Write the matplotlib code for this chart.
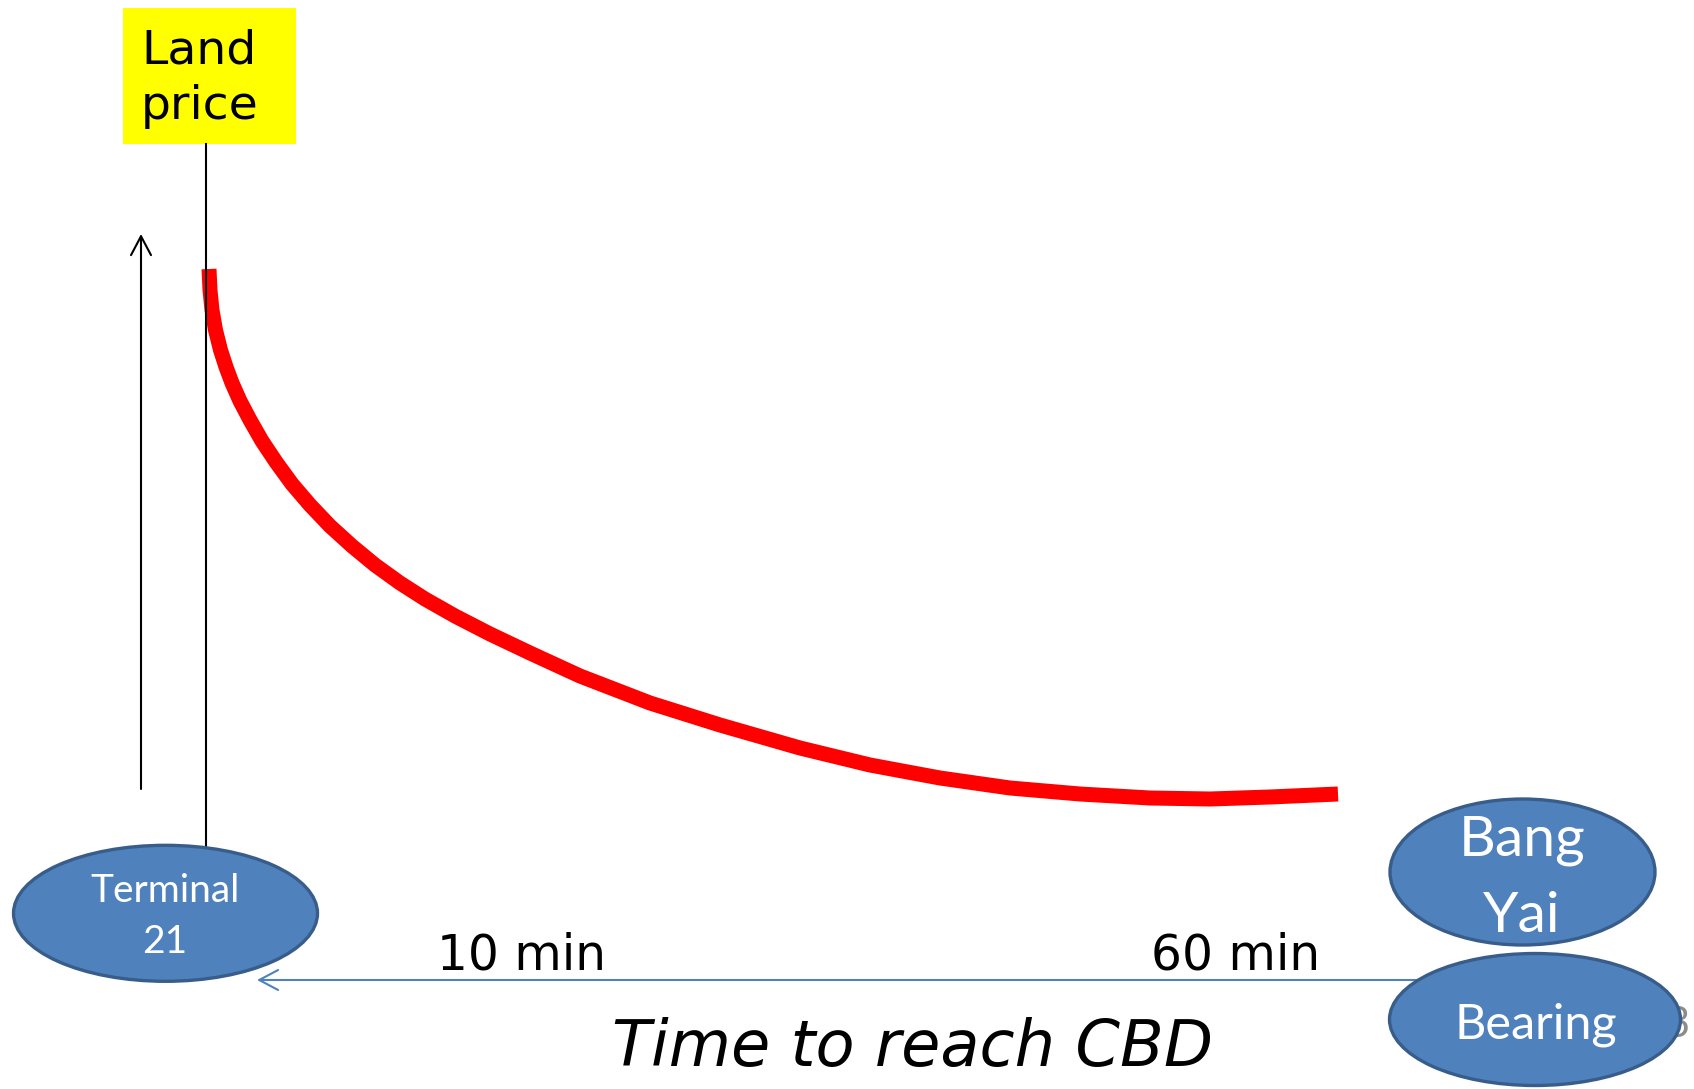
import matplotlib
matplotlib.use("Agg")
import matplotlib.pyplot as plt
from matplotlib.patches import Ellipse, Rectangle

# ---- data (canvas pixel units) ----
curve_x = [209, 210, 212, 215.5, 220.5, 226, 232, 240, 250, 262, 276, 292, 310, 330,
           352, 375, 400, 425, 455, 490, 530, 580, 650, 720, 800, 870, 940, 1010,
           1080, 1150, 1210, 1270, 1338]
curve_y = [269, 290, 310, 330, 350, 367, 383, 401, 420, 441, 462, 484, 505, 526,
           546, 565, 583, 599, 616, 634, 653, 676, 703, 725, 748, 765, 778, 788,
           794, 798, 799, 797, 794]

y_label_lines = ["Land", "price"]
time_labels = ["10 min", "60 min"]
axis_title = "Time to reach CBD"
station_near = ["Terminal", "21"]
station_far_top = ["Bang", "Yai"]
station_far_bottom = ["Bearing"]
slide_number = "3"

# ---- styles ----
RED = "#ff0000"
BLUE = "#4f81bd"
BLUE_EDGE = "#385d8a"
YELLOW = "#ffff00"

W, H = 1694, 1089
fig = plt.figure(figsize=(W / 100, H / 100), dpi=100)
ax = fig.add_axes([0, 0, 1, 1])
ax.set_xlim(0, W)
ax.set_ylim(H, 0)
ax.axis("off")

# yellow label box
ax.add_patch(Rectangle((123, 8), 173, 136, facecolor=YELLOW, edgecolor="none", zorder=2))
ax.text(141, 64, y_label_lines[0], fontsize=34, family="DejaVu Sans",
        ha="left", va="baseline", zorder=3)
ax.text(141, 119, y_label_lines[1], fontsize=34, family="DejaVu Sans",
        ha="left", va="baseline", zorder=3)

# red curve
ax.plot(curve_x, curve_y, color=RED, lw=10.8, solid_capstyle="butt",
        solid_joinstyle="round", zorder=3)

# vertical black line from box to ellipse
ax.plot([206, 206], [144, 846], color="black", lw=1.5, zorder=4)

# up arrow (land price axis)
ax.annotate("", xy=(141, 234), xytext=(141, 789),
            arrowprops=dict(arrowstyle="->,head_length=0.68,head_width=0.36",
                            mutation_scale=20, color="black", lw=1.5,
                            shrinkA=0, shrinkB=0), zorder=3)

# horizontal blue arrow (time axis)
ax.annotate("", xy=(257, 980), xytext=(1440, 980),
            arrowprops=dict(arrowstyle="->,head_length=0.68,head_width=0.36",
                            mutation_scale=20, color=BLUE, lw=1.5,
                            shrinkA=0, shrinkB=0), zorder=3)

# slide number partially hidden
ax.text(1689, 1036.7, slide_number, fontsize=30, family="Lato", color="#8c8c8c",
        ha="right", va="baseline", zorder=2)

# ellipses
def station(cx, cy, w, h):
    ax.add_patch(Ellipse((cx, cy), w, h, facecolor=BLUE, edgecolor=BLUE_EDGE,
                         lw=2.4, zorder=5))

station(165.5, 913.3, 304, 136)
station(1522.5, 872, 265, 146)
station(1535, 1019.5, 291, 132)

ax.text(164.7, 901.7, station_near[0], fontsize=28, family="Lato", color="white",
        ha="center", va="baseline", zorder=6)
ax.text(164.7, 952.7, station_near[1], fontsize=28, family="Lato", color="white",
        ha="center", va="baseline", zorder=6)
ax.text(1522, 855, station_far_top[0], fontsize=41, family="Lato", color="white",
        ha="center", va="baseline", zorder=6)
ax.text(1522, 931.7, station_far_top[1], fontsize=41, family="Lato", color="white",
        ha="center", va="baseline", zorder=6)
ax.text(1536, 1038.3, station_far_bottom[0], fontsize=35, family="Lato", color="white",
        ha="center", va="baseline", zorder=6)

# time labels
ax.text(437, 969.3, time_labels[0], fontsize=35, family="DejaVu Sans",
        ha="left", va="baseline", zorder=3)
ax.text(1151, 969.3, time_labels[1], fontsize=35, family="DejaVu Sans",
        ha="left", va="baseline", zorder=3)

# axis title
ax.text(912.5, 1066, axis_title, fontsize=46, family="DejaVu Sans", style="italic",
        ha="center", va="baseline", zorder=3)

fig.savefig("out.png", dpi=100)
